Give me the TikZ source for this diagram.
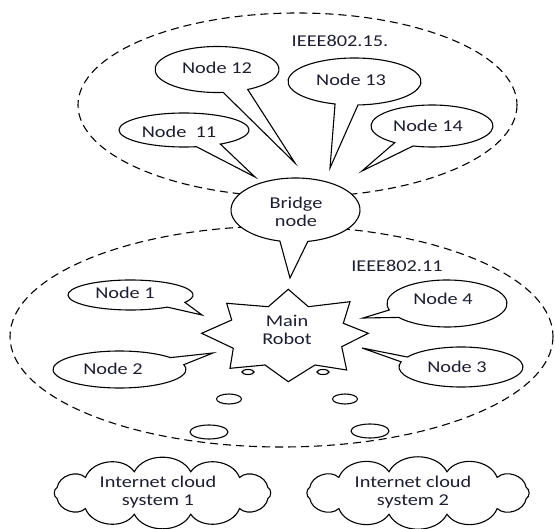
\documentclass[tikz,border=0pt]{standalone}
\usepackage{fontspec}
\setmainfont{Carlito}[FakeStretch=1.23]
\definecolor{textc}{RGB}{30,30,50}
\newcommand\mycallout[7]{%
  \draw[balloon] (#1,#2) ++(#5:#3 and #4)
    arc[start angle=#5, end angle=#6, x radius=#3, y radius=#4] -- #7 -- cycle;}
\newcommand\mycloud[4]{%
  \draw[balloon] ([shift={(15:#3 and #4)}]#1,#2)
    \foreach \a in {45,75,...,375} { to[out=62,in=118,relative] ([shift={(\a:#3 and #4)}]#1,#2) } -- cycle;}
\begin{document}
\begin{tikzpicture}[x=1pt,y=-1pt,
  zone/.style={draw, dash pattern=on 8pt off 5pt, line width=1.1pt},
  balloon/.style={draw, fill=white, line width=1.1pt, line join=miter},
  bubble/.style={draw, fill=white, line width=1.1pt},
  lbl/.style={font=\fontsize{16.5}{18}\selectfont, text=textc, align=center, inner sep=0pt}]
\useasboundingbox (0,0) rectangle (555,529);
% zones
\draw[zone] (297.5,105) ellipse[x radius=219.5, y radius=92];
\draw[zone] (281.5,336.5) ellipse[x radius=271.5, y radius=110.5];
% tips
\coordinate (t11) at (255,177);
\coordinate (t12) at (295,163);
\coordinate (t13) at (330,168);
\coordinate (t14) at (362,171);
\coordinate (tb) at (290,278);
\coordinate (t1) at (202,315);
\coordinate (t2) at (213,353);
\coordinate (t4) at (363,318);
\coordinate (t3) at (362,348);
% callouts
\mycallout{184}{130}{65}{17}{79}{416}{(t11)}
\mycallout{217}{69.5}{62}{23}{84.3}{420.3}{(t12)}
\mycallout{354.5}{81.5}{66.5}{23.5}{107}{447}{(t13)}
\mycallout{432}{126}{61}{21}{127.6}{468}{(t14)}
\mycallout{295.5}{210}{64.5}{32}{104}{439}{(tb)}
\mycallout{130.5}{295}{62.5}{15}{53.9}{389.5}{(t1)}
\mycallout{119.5}{369.5}{66.5}{18.5}{-15}{320}{(t2)}
\mycallout{447}{303.5}{60}{23.5}{164}{503.7}{(t4)}
\mycallout{461}{367}{62}{20}{210}{555}{(t3)}
% main robot star
\draw[balloon] (288.3,289.3) -- (308.3,306.7) -- (350,301.7) -- (343.3,323.3)
  -- (368.3,333.3) -- (341.7,346.7) -- (346.7,370) -- (315,365)
  -- (288.3,381.7) -- (265,365) -- (230,368.3) -- (233.3,348.3)
  -- (201.7,333.3) -- (231.7,320) -- (226.7,303.3) -- (268.3,306.7) -- cycle;
% thought bubbles
\draw[bubble] (248,372) ellipse[x radius=6, y radius=2.5];
\draw[bubble] (323,372) ellipse[x radius=6, y radius=2.5];
\draw[bubble] (229,399) ellipse[x radius=12.5, y radius=5];
\draw[bubble] (345,399) ellipse[x radius=12.5, y radius=5];
\draw[bubble] (209,432) ellipse[x radius=19, y radius=7];
\draw[bubble] (370,431) ellipse[x radius=19, y radius=7];
% clouds
\mycloud{162.5}{493}{109}{22}
\mycloud{418}{493}{112}{22}
% labels
\node[lbl] (l15) at (340,41) {IEEE802.15.};
\node[lbl] (l11net) at (397,266) {IEEE802.11};
\node[lbl] (n12) at (217,68) {Node 12};
\node[lbl] (n13) at (351,80) {Node 13};
\node[lbl] (n11) at (179,132) {Node\ \ 11};
\node[lbl] (n14) at (428,126) {Node 14};
\node[lbl] (n1) at (125,293) {Node 1};
\node[lbl] (n2) at (113,369) {Node 2};
\node[lbl] (n4) at (443,299) {Node 4};
\node[lbl] (n3) at (457,367) {Node 3};
\node[lbl] (bridge) at (296,211.5) {Bridge\\node};
\node[lbl] (robot) at (287,330) {Main\\Robot};
\node[lbl] (c1txt) at (158,492.5) {Internet cloud\\system 1};
\node[lbl] (c2txt) at (413,492.5) {Internet cloud\\system 2};
\end{tikzpicture}
\end{document}
